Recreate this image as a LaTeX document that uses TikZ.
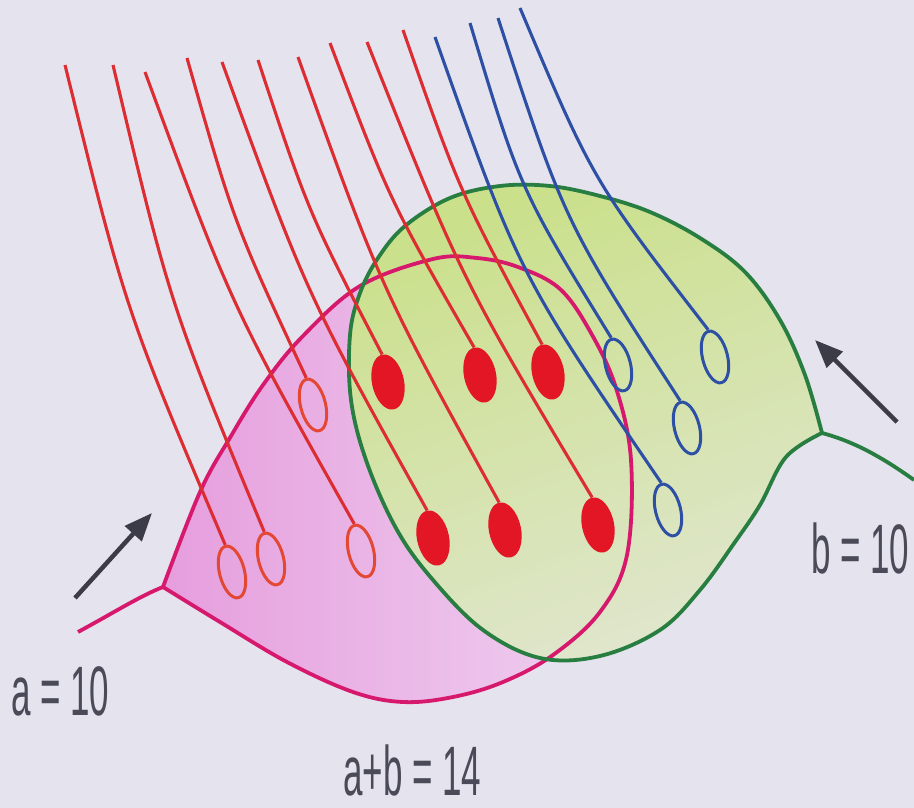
\documentclass[tikz,border=0pt]{standalone}
\usepackage{fontspec}
\setmainfont{Liberation Sans}
\usetikzlibrary{shapes.geometric,calc,arrows.meta}
\definecolor{bg}{RGB}{229,227,238}
\definecolor{redln}{RGB}{220,45,50}
\definecolor{ocred}{RGB}{226,72,52}
\definecolor{fillred}{RGB}{226,22,36}
\definecolor{blueln}{RGB}{45,80,165}
\definecolor{pinkln}{RGB}{215,25,110}
\definecolor{greenln}{RGB}{40,125,65}
\definecolor{pinkA}{RGB}{230,158,221}
\definecolor{pinkB}{RGB}{239,210,241}
\definecolor{greenA}{RGB}{202,224,138}
\definecolor{greenB}{RGB}{224,230,206}
\definecolor{arrowc}{RGB}{60,60,72}
\definecolor{labelc}{RGB}{74,74,88}
\newcommand\pinkleafpath{plot[smooth, tension=0.6] coordinates {(163,587) (200,492) (231,436) (263,385) (302,337) (360,286) (433,259) (477,258) (518,267) (560,289) (591,333) (616,388) (631,460) (627,555) (600,612) (553,655) (503,682) (453,697) (403,702) (353,692) (287,662) (220,622) (163,587)}}
\newcommand\greenleafpath{plot[smooth, tension=0.6] coordinates {(822,433) (786,457) (760,505) (735,542) (700,590) (660,630) (600,656) (540,658) (483,630) (433,580) (397,530) (367,463) (351,400) (350,335) (360,293) (378,258) (405,226) (450,198) (500,186) (550,186) (600,196) (650,212) (700,238) (745,272) (780,320) (805,375) (822,433)}}
\begin{document}
\begin{tikzpicture}[x=1pt,y=-1pt,
  openred/.style={ellipse, draw=ocred, line width=3pt, minimum width=25pt, minimum height=53pt, inner sep=0pt, rotate=14},
  openblue/.style={ellipse, draw=blueln, line width=3pt, minimum width=25pt, minimum height=53pt, inner sep=0pt, rotate=14},
  filledred/.style={ellipse, fill=fillred, minimum width=32pt, minimum height=56pt, inner sep=0pt, rotate=12},
  redline/.style={draw=redln, line width=3.1pt},
  blueline/.style={draw=blueln, line width=3.1pt},
  pinkedge/.style={draw=pinkln, line width=3.8pt, line join=round},
  greenedge/.style={draw=greenln, line width=3.8pt, line join=round},
  arr/.style={draw=arrowc, line width=4.5pt, -{Triangle[length=28pt,width=22pt]}},
  lbl/.style={text=labelc, font=\fontsize{70}{80}\selectfont, inner sep=0pt, anchor=base west}]
\useasboundingbox (0,0) rectangle (914,808);
\fill[bg] (0,0) rectangle (914,808);
% leaves
\path[left color=pinkA, right color=pinkB] \pinkleafpath -- cycle;
\path[top color=greenA, bottom color=greenB, shading angle=20] \greenleafpath -- cycle;
\coordinate (ptip) at (163,587);
\coordinate (pstem) at (78,632);
\coordinate (gtip) at (822,433);
\coordinate (gstem) at (914,480);
\draw[pinkedge] \pinkleafpath;
\draw[pinkedge] (pstem) .. controls (115,612) and (140,596) .. (ptip);
\draw[greenedge] \greenleafpath;
\draw[greenedge] (gtip) .. controls (848,440) and (875,452) .. (gstem);
% circles
\node[openred] (c1) at (232,572) {};
\node[openred] (c2) at (271,559) {};
\node[openred] (c3) at (361,551) {};
\node[openred] (c4) at (313,405) {};
\node[filledred] (c5) at (433,538) {};
\node[filledred] (c6) at (388,382) {};
\node[filledred] (c7) at (505,530) {};
\node[filledred] (c8) at (480,375) {};
\node[filledred] (c9) at (598,525) {};
\node[filledred] (c10) at (548,372) {};
\node[openblue] (b1) at (668,510) {};
\node[openblue] (b2) at (618,365) {};
\node[openblue] (b3) at (687,428) {};
\node[openblue] (b4) at (715,357) {};
% line tops
\coordinate (t1) at (65,65);
\coordinate (t2) at (113,65);
\coordinate (t3) at (145,72);
\coordinate (t4) at (187,58);
\coordinate (t5) at (222,62);
\coordinate (t6) at (258,60);
\coordinate (t7) at (298,57);
\coordinate (t8) at (330,43);
\coordinate (t9) at (367,42);
\coordinate (t10) at (403,30);
\coordinate (u1) at (435,37);
\coordinate (u2) at (470,23);
\coordinate (u3) at (498,18);
\coordinate (u4) at (520,8);
\foreach \i in {1,...,10}
  \draw[redline] (t\i) .. controls ($(t\i)!0.5!(c\i.north)!0.08!-90:(c\i.north)$) .. (c\i.north);
\foreach \i in {1,...,4}
  \draw[blueline] (u\i) .. controls ($(u\i)!0.5!(b\i.north)!0.13!-90:(b\i.north)$) .. (b\i.north);
% arrows
\coordinate (aL0) at (75,598);
\coordinate (aL1) at (152,513);
\coordinate (aR0) at (897,422);
\coordinate (aR1) at (815,340);
\draw[arr] (aL0) -- (aL1);
\draw[arr] (aR0) -- (aR1);
% labels
\node[lbl] (la) at (11,715) {\scalebox{0.5}[1]{a = 10}};
\node[lbl] (lb) at (811,573) {\scalebox{0.5}[1]{b = 10}};
\node[lbl] (lab) at (343,795) {\scalebox{0.5}[1]{a+b = 14}};
\end{tikzpicture}
\end{document}
